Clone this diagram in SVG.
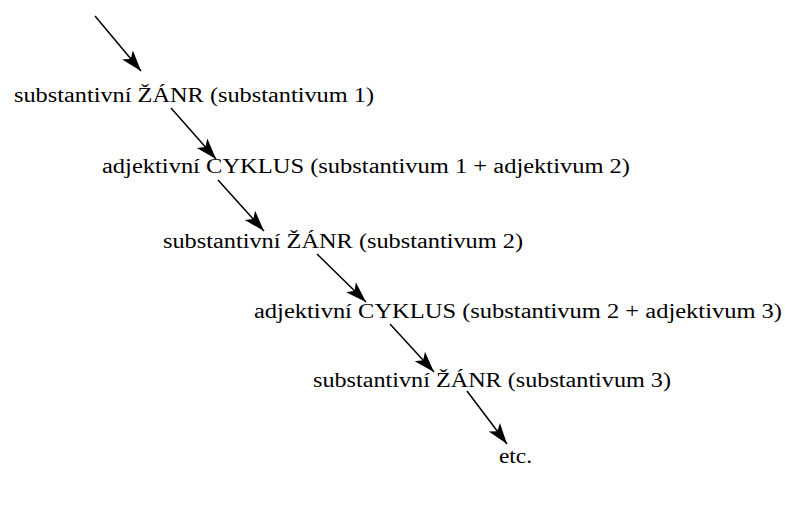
<svg xmlns="http://www.w3.org/2000/svg" width="785" height="509" viewBox="0 0 785 509">
<defs>
<marker id="ah" markerWidth="24" markerHeight="16" refX="0" refY="0" orient="auto" markerUnits="userSpaceOnUse" viewBox="-22 -8 24 16">
<path d="M0,0 L-21,-7 L-16,0 L-21,7 Z" fill="#000"/>
</marker>
<style>
text{font-family:"Liberation Serif","DejaVu Serif",serif;font-size:20px;fill:#000}
.c line{stroke:#000;stroke-width:1.5;marker-end:url(#ah)}
</style>
</defs>
<rect width="785" height="509" fill="#fff"/>
<g class="c" id="connectors">
<line x1="95" y1="16" x2="141" y2="71"/>
<line x1="171" y1="108" x2="216" y2="159"/>
<line x1="218" y1="180" x2="264" y2="231"/>
<line x1="317" y1="254" x2="366" y2="302"/>
<line x1="390" y1="324" x2="434" y2="372"/>
<line x1="467" y1="391" x2="507" y2="444"/>
</g>
<g id="n1"><text x="14" y="102" textLength="360" lengthAdjust="spacingAndGlyphs">substantivní ŽÁNR (substantivum 1)</text></g>
<g id="n2"><text x="102" y="173" textLength="528" lengthAdjust="spacingAndGlyphs">adjektivní CYKLUS (substantivum 1 + adjektivum 2)</text></g>
<g id="n3"><text x="163" y="248" textLength="360" lengthAdjust="spacingAndGlyphs">substantivní ŽÁNR (substantivum 2)</text></g>
<g id="n4"><text x="254" y="318" textLength="528" lengthAdjust="spacingAndGlyphs">adjektivní CYKLUS (substantivum 2 + adjektivum 3)</text></g>
<g id="n5"><text x="313" y="387" textLength="358" lengthAdjust="spacingAndGlyphs">substantivní ŽÁNR (substantivum 3)</text></g>
<g id="n6"><text x="499" y="463" textLength="33" lengthAdjust="spacingAndGlyphs">etc.</text></g>
</svg>
